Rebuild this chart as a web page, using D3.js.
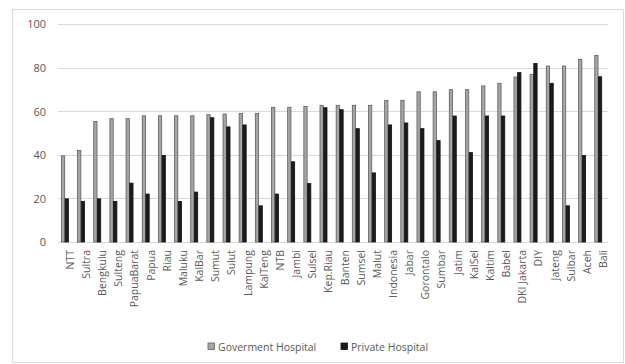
<!DOCTYPE html>
<html>
<head>
<meta charset="utf-8">
<script src="https://cdn.jsdelivr.net/npm/d3@7"></script>
<style>
  html, body { margin: 0; padding: 0; background: #fff; }
  svg { display: block; font-family: "Open Sans", sans-serif; }
</style>
</head>
<body>
<svg id="chart" width="625" height="364"></svg>
<script>
// Hospital share by province (%)
const provinces = ["NTT", "Sultra", "Bengkulu", "Sulteng", "PapuaBarat", "Papua", "Riau", "Maluku", "KalBar", "Sumut",
  "Sulut", "Lampung", "KalTeng", "NTB", "Jambi", "Sulsel", "Kep.Riau", "Banten", "Sumsel", "Malut",
  "Indonesia", "Jabar", "Gorontalo", "Sumbar", "Jatim", "KalSel", "Kaltim", "Babel", "DKI Jakarta", "DIY",
  "Jateng", "Sulbar", "Aceh", "Bali"];
const government = [39.5, 42, 55.3, 56.6, 56.6, 57.9, 57.9, 57.9, 57.9, 58.4,
  58.7, 59, 59, 61.8, 61.8, 62.2, 62.7, 62.7, 62.7, 62.7,
  65, 65, 68.9, 68.9, 69.9, 69.9, 71.6, 72.8, 75.7, 76.9,
  80.7, 80.7, 83.8, 85.6];
const privateH = [19.8, 18.6, 19.8, 18.6, 27, 22, 39.7, 18.6, 22.9, 57,
  52.8, 53.7, 16.6, 22, 36.8, 26.8, 61.6, 60.7, 52, 31.7,
  53.7, 54.6, 52, 46.5, 57.8, 41, 57.8, 57.8, 77.7, 81.9,
  72.8, 16.6, 39.7, 75.8];
const seriesNames = ["Goverment Hospital", "Private Hospital"];
const yTicks = [0, 20, 40, 60, 80, 100];

const svg = d3.select("#chart");
const plotLeft = 58, plotRight = 607.5, plotTop = 24, plotBottom = 242;

// outer chart frame
svg.append("rect")
  .attr("x", 12.5).attr("y", 9.5).attr("width", 611).attr("height", 353)
  .attr("fill", "none").attr("stroke", "#d9d9d9").attr("stroke-width", 1);

const x0 = d3.scaleBand().domain(provinces).range([plotLeft, plotRight]);
const x1 = d3.scaleBand().domain(seriesNames).range([3, 10.8]);
const y = d3.scaleLinear().domain([0, 100]).range([plotBottom, plotTop]);

// gridlines
svg.append("g").selectAll("line").data(yTicks).join("line")
  .attr("x1", plotLeft).attr("x2", plotRight + 1)
  .attr("y1", d => Math.round(y(d)) + 0.5).attr("y2", d => Math.round(y(d)) + 0.5)
  .attr("stroke", "#d9d9d9").attr("stroke-width", 1);

// y axis labels
const yAxis = d3.axisLeft(y).tickValues(yTicks).tickSize(0).tickPadding(0);
const gy = svg.append("g").attr("transform", `translate(46,0)`).call(yAxis);
gy.select(".domain").remove();
gy.selectAll("text").attr("fill", "#595959").style("font-size", "11px")
  .style("font-family", "'Open Sans', sans-serif").attr("dy", "0.35em");

// x axis category labels
const xAxis = d3.axisBottom(x0).tickSize(0).tickPadding(0);
const gx = svg.append("g").attr("transform", `translate(0,${plotBottom})`).call(xAxis);
gx.select(".domain").remove();
gx.selectAll("text")
  .attr("fill", "#595959").style("font-size", "10.5px")
  .style("font-family", "'Open Sans', sans-serif")
  .attr("text-anchor", "end")
  .attr("transform", "rotate(-90)")
  .attr("x", -8).attr("y", 0).attr("dx", 0).attr("dy", "0.35em");
gx.selectAll(".tick").attr("transform", d => `translate(${x0(d) + x0.bandwidth() / 2 + 4},0)`);

// bars
const rows = provinces.map((p, i) => ({ p, vals: [government[i], privateH[i]] }));
const groups = svg.append("g").selectAll("g").data(rows).join("g")
  .attr("transform", d => `translate(${x0(d.p)},0)`);
groups.selectAll("rect").data(d => d.vals.map((v, k) => ({ v, k }))).join("rect")
  .attr("x", d => x1(seriesNames[d.k]) + (d.k === 0 ? 0.4 : 0.2))
  .attr("width", x1.bandwidth() - 0.6)
  .attr("y", d => y(d.v))
  .attr("height", d => plotBottom - y(d.v))
  .attr("fill", d => d.k === 0 ? "#a5a5a5" : "#1c1c1c")
  .attr("stroke", d => d.k === 0 ? "#5f5f5f" : "#111")
  .attr("stroke-width", 0.8);

// legend
const legend = svg.append("g");
const legendX = [208, 341];
seriesNames.forEach((name, k) => {
  legend.append("rect")
    .attr("x", legendX[k]).attr("y", 343).attr("width", 6.5).attr("height", 6.5)
    .attr("fill", k === 0 ? "#a5a5a5" : "#1c1c1c")
    .attr("stroke", k === 0 ? "#5f5f5f" : "#111").attr("stroke-width", 0.8);
  legend.append("text")
    .attr("x", legendX[k] + 10).attr("y", 350.5)
    .attr("fill", "#595959").style("font-size", "10.5px")
    .text(name);
});
</script>
</body>
</html>
